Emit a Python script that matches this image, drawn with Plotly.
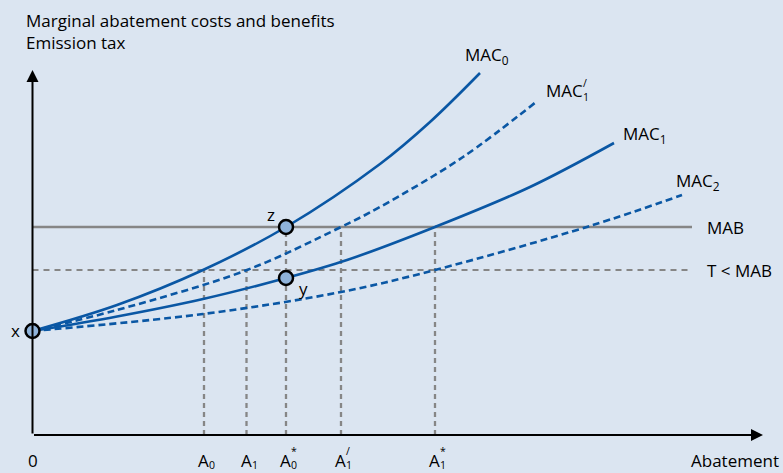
import plotly.graph_objects as go

# ---- data (abatement units, cost units) ----
mac0_x = [0, 8.45, 17.05, 25.35, 34.75, 39.75, 44.75]
mac0_y = [10.4, 13.0, 16.5, 20.8, 27.1, 31.3, 36.2]

mac1p_x = [0, 8.45, 21.45, 30.85, 34.75, 43.05, 50.35]
mac1p_y = [10.4, 12.5, 16.5, 20.8, 22.8, 27.8, 33.3]

mac1_x = [0, 8.45, 17.05, 25.35, 31.45, 40.25, 49.75, 58.15]
mac1_y = [10.4, 11.85, 13.6, 15.7, 17.5, 20.8, 24.8, 29.2]

mac2_x = [0, 17.05, 30.85, 40.25, 55.75, 64.95]
mac2_y = [10.4, 12.1, 14.3, 16.5, 20.9, 24.0]

mab_level = 20.8
tax_level = 16.5
line_end = 65.95

tick_subs = ["0", "1", "0", "1", "1"]
tick_marks = ["", "", "*", "/", "*"]
tick_vals = [17.15, 21.4, 25.35, 30.85, 40.25]
tick_tops = ["T", "T", "MAB", "MAB", "MAB"]

x_point = (0, 10.4)
z_point = (25.35, 20.8)
y_point = (25.35, 15.7)

# ---- style ----
BG = "#dbe5f1"
BLUE = "#0a57a4"
GRAY = "#868686"
FONT = "Open Sans"
FS = 17
SFS = 10.5

fig = go.Figure()

def curve(xs, ys, dash):
    fig.add_trace(go.Scatter(x=xs, y=ys, mode="lines",
                             line=dict(color=BLUE, width=2.6, dash=dash, shape="spline", smoothing=1.0),
                             hoverinfo="skip", showlegend=False))

# horizontal MAB and tax lines
fig.add_trace(go.Scatter(x=[0, line_end], y=[mab_level, mab_level], mode="lines",
                         line=dict(color=GRAY, width=2.5), showlegend=False, hoverinfo="skip"))
fig.add_trace(go.Scatter(x=[0, line_end], y=[tax_level, tax_level], mode="lines",
                         line=dict(color=GRAY, width=2.2, dash="6px,5px"), showlegend=False, hoverinfo="skip"))

# vertical guides
for xv, top in zip(tick_vals, tick_tops):
    h = tax_level if top == "T" else mab_level
    fig.add_trace(go.Scatter(x=[xv, xv], y=[0, h], mode="lines",
                             line=dict(color=GRAY, width=2.3, dash="5px,4px"), showlegend=False, hoverinfo="skip"))

curve(mac2_x, mac2_y, "7px,4px")
curve(mac1_x, mac1_y, "solid")
curve(mac1p_x, mac1p_y, "7px,4px")
curve(mac0_x, mac0_y, "solid")

# points
fig.add_trace(go.Scatter(x=[x_point[0], z_point[0], y_point[0]], y=[x_point[1], z_point[1], y_point[1]],
                         mode="markers", marker=dict(size=14, color="#8fb3da", line=dict(color="black", width=2.5)),
                         showlegend=False, hoverinfo="skip", cliponaxis=False))

ann = []
def text(x, y, s, xanchor="left", xshift=0, yshift=0, size=FS):
    ann.append(dict(x=x, y=y, xref="x", yref="y", text=s, showarrow=False, xanchor=xanchor, yanchor="middle",
                    xshift=xshift, yshift=yshift, borderpad=0, font=dict(family=FONT, size=size, color="black")))

# axes with arrows
ann.append(dict(x=73.05, y=0, ax=0, ay=0, xref="x", yref="y", axref="x", ayref="y", text="", showarrow=True,
                arrowhead=2, arrowsize=1.2, arrowwidth=2, arrowcolor="black", standoff=0))
ann.append(dict(x=0, y=36.5, ax=0, ay=0, xref="x", yref="y", axref="x", ayref="y", text="", showarrow=True,
                arrowhead=2, arrowsize=1.2, arrowwidth=2, arrowcolor="black", standoff=0))

# curve labels at curve ends
text(mac0_x[-1], mac0_y[-1], "MAC<sub>0</sub>", xshift=-16, yshift=18)
text(mac1p_x[-1], mac1p_y[-1], "MAC", xshift=9, yshift=12)
text(mac1p_x[-1], mac1p_y[-1], "1", xshift=46, yshift=5, size=SFS)
text(mac1p_x[-1], mac1p_y[-1], "/", xshift=46, yshift=19, size=SFS)
text(mac1_x[-1], mac1_y[-1], "MAC<sub>1</sub>", xshift=8, yshift=9)
text(mac2_x[-1], mac2_y[-1], "MAC<sub>2</sub>", xshift=-7, yshift=14)
text(line_end, mab_level, "MAB", xshift=14)
text(line_end, tax_level, "T &lt; MAB", xshift=14)

# point labels
text(x_point[0], x_point[1], "x", xanchor="right", xshift=-12, yshift=1)
text(z_point[0], z_point[1], "z", xanchor="center", xshift=-15, yshift=13)
text(y_point[0], y_point[1], "y", xanchor="center", xshift=17, yshift=-10)

# axis tick labels
text(0, 0, "0", xanchor="center", yshift=-25)
for xv, sb, mk in zip(tick_vals, tick_subs, tick_marks):
    text(xv, 0, "A", xanchor="left", xshift=-7, yshift=-25)
    text(xv, 0, sb, xanchor="left", xshift=4, yshift=-30, size=SFS)
    if mk:
        text(xv, 0, mk, xanchor="left", xshift=4, yshift=-16, size=SFS)
text(73.05, 0, "Abatement", xanchor="right", xshift=17, yshift=-25)

# y title
ann.append(dict(x=0, y=1, xref="paper", yref="paper", xanchor="left", yanchor="top", showarrow=False, align="left",
                text="Marginal abatement costs and benefits<br>Emission tax", xshift=24, yshift=-7,
                font=dict(family=FONT, size=FS, color="black")))

fig.update_layout(
    width=783, height=473,
    margin=dict(l=0, r=0, t=0, b=0),
    paper_bgcolor=BG, plot_bgcolor=BG,
    xaxis=dict(range=[-3.25, 75.05], visible=False, fixedrange=True),
    yaxis=dict(range=[-3.8, 43.5], visible=False, fixedrange=True),
    annotations=ann,
    showlegend=False,
)

fig.write_html("out.html", config={"displayModeBar": False},
               post_script="document.body.style.margin='0';document.body.style.background='#dbe5f1';")
